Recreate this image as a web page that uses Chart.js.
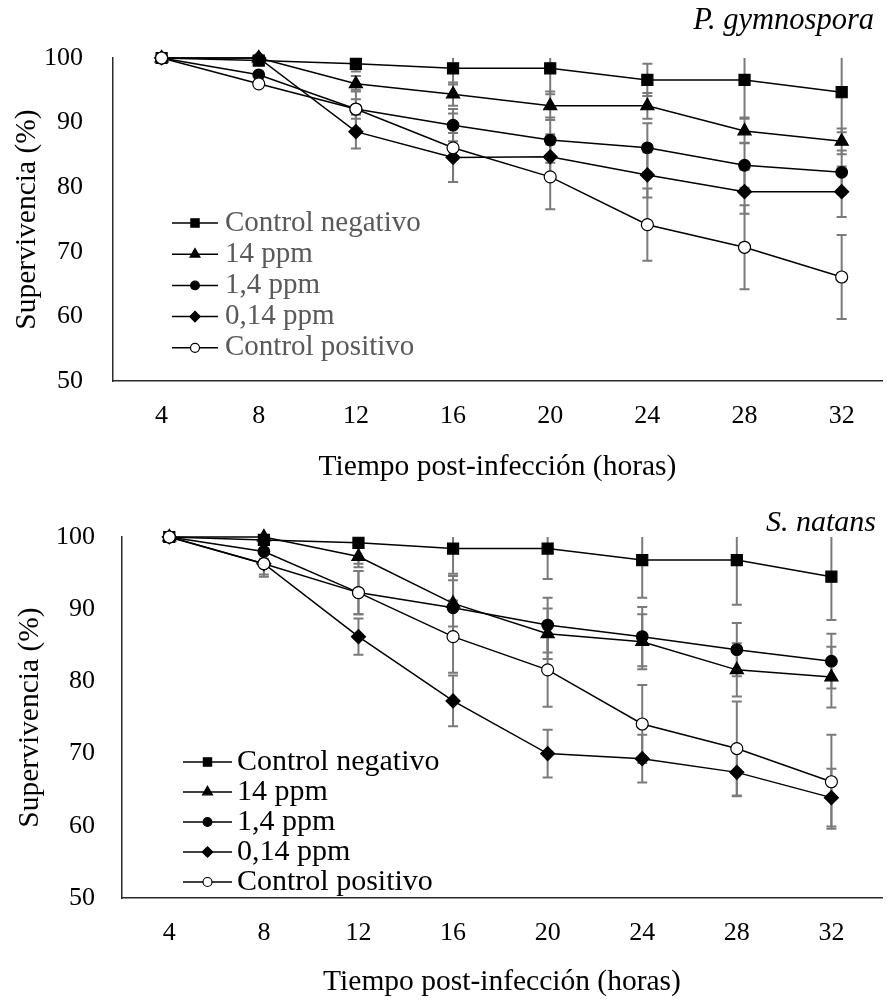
<!DOCTYPE html>
<html><head><meta charset="utf-8">
<script src="https://cdn.jsdelivr.net/npm/chart.js@4/dist/chart.umd.min.js"></script>
<style>
html,body{margin:0;padding:0;background:#fff;}
#w1{position:absolute;left:0;top:0;width:891px;height:490px;}
#w2{position:absolute;left:0;top:490px;width:891px;height:510px;}
</style></head><body>
<div id="w1"><canvas id="c1"></canvas></div>
<div id="w2"><canvas id="c2"></canvas></div>
<script>
const hours = [4, 8, 12, 16, 20, 24, 28, 32];
const hourTicks = [4, 8, 12, 16, 20, 24, 28, 32];
const yTicks = [50, 60, 70, 80, 90, 100];
const seriesNames = ['Control negativo', '14 ppm', '1,4 ppm', '0,14 ppm', 'Control positivo'];
const yTitle = 'Supervivencia (%)';
const xTitle = 'Tiempo post-infección (horas)';
const titleTop = 'P. gymnospora';
const titleBottom = 'S. natans';

// P. gymnospora
const pgNeg   = [100, 99.6, 99.1, 98.4, 98.4, 96.6, 96.6, 94.7];
const pg14    = [100, 100, 96.0, 94.4, 92.6, 92.6, 88.7, 87.1];
const pg1_4   = [100, 97.4, 92.1, 89.6, 87.3, 86.1, 83.4, 82.3];
const pg0_14  = [100, 100, 88.6, 84.6, 84.7, 81.9, 79.3, 79.3];
const pgPos   = [100, 96.0, 92.1, 86.1, 81.6, 74.2, 70.7, 66.1];
const pgNegErr  = [0, 0, 1.2, 2.5, 4.0, 2.5, 5.8, 6.2];
const pg14Err   = [0, 0, 1.2, 1.8, 2.2, 2.0, 1.9, 2.0];
const pg1_4Err  = [0, 0, 1.5, 2.5, 3.5, 3.8, 3.5, 3.4];
const pg0_14Err = [0, 0, 2.6, 3.8, 3.5, 3.5, 3.4, 3.9];
const pgPosErr  = [0, 0, 3.0, 5.3, 5.0, 5.6, 6.5, 6.5];

// S. natans
const snNeg   = [100, 99.6, 99.2, 98.4, 98.4, 96.8, 96.8, 94.5];
const sn14    = [100, 100, 97.3, 90.8, 86.6, 85.5, 81.6, 80.6];
const sn1_4   = [100, 98.0, 92.3, 90.2, 87.8, 86.2, 84.4, 82.8];
const sn0_14  = [100, 96.3, 86.2, 77.3, 70.0, 69.3, 67.4, 63.9];
const snPos   = [100, 96.3, 92.3, 86.2, 81.6, 74.1, 70.7, 66.1];
const snNegErr  = [0, 0.5, 2.9, 3.5, 4.2, 5.2, 6.2, 6.0];
const sn14Err   = [0, 0.5, 1.5, 3.2, 3.5, 3.8, 3.7, 4.2];
const sn1_4Err  = [0, 1.0, 3.0, 4.4, 3.8, 4.1, 3.7, 3.8];
const sn0_14Err = [0, 1.5, 2.5, 3.5, 3.3, 3.3, 3.3, 4.0];
const snPosErr  = [0, 1.8, 3.0, 5.0, 5.1, 5.4, 6.5, 6.5];

const FAM = "'Liberation Serif', 'Times New Roman', serif";

const markerStyles = [
  {pointStyle: 'rect', pointRadius: 7.8, bg: '#000'},
  {pointStyle: 'triangle', pointRadius: 7.6, bg: '#000'},
  {pointStyle: 'circle', pointRadius: 5.8, bg: '#000'},
  {pointStyle: 'rectRot', pointRadius: 7, bg: '#000'},
  {pointStyle: 'circle', pointRadius: 6, bg: '#fff'}
];

function makeDatasets(vals, errs) {
  return vals.map((v, i) => ({
    label: seriesNames[i],
    data: hours.map((h, j) => ({x: h, y: v[j]})),
    errors: errs[i],
    borderColor: '#000',
    borderWidth: 1.5,
    pointStyle: markerStyles[i].pointStyle,
    pointRadius: markerStyles[i].pointRadius,
    pointBackgroundColor: markerStyles[i].bg,
    pointBorderColor: '#000',
    pointBorderWidth: 1.2,
    tension: 0,
    order: 4 - i,
    clip: false
  }));
}

const errorBars = {
  id: 'errorBars',
  beforeDatasetsDraw(chart) {
    const ctx = chart.ctx, ca = chart.chartArea, ys = chart.scales.y;
    ctx.save();
    ctx.beginPath();
    ctx.rect(ca.left, ca.top, ca.right - ca.left, ca.bottom - ca.top);
    ctx.clip();
    ctx.strokeStyle = '#7a7a7a';
    ctx.lineWidth = 2;
    chart.data.datasets.forEach((ds, i) => {
      const meta = chart.getDatasetMeta(i);
      ds.errors.forEach((e, j) => {
        if (!e) return;
        const v = ds.data[j].y;
        const x = meta.data[j].x;
        const yt = ys.getPixelForValue(v + e), yb = ys.getPixelForValue(v - e);
        ctx.beginPath();
        ctx.moveTo(x, yt); ctx.lineTo(x, yb);
        ctx.moveTo(x - 5, yt); ctx.lineTo(x + 5, yt);
        ctx.moveTo(x - 5, yb); ctx.lineTo(x + 5, yb);
        ctx.stroke();
      });
    });
    ctx.restore();
  }
};

const boxLegend = {
  id: 'boxLegend',
  afterDraw(chart, args, o) {
    const ctx = chart.ctx;
    ctx.save();
    chart.data.datasets.forEach((ds, i) => {
      const y = o.y0 + i * o.dy;
      ctx.strokeStyle = '#000';
      ctx.lineWidth = 1.5;
      ctx.beginPath(); ctx.moveTo(o.x0, y); ctx.lineTo(o.x1, y); ctx.stroke();
      ctx.fillStyle = ds.pointBackgroundColor;
      ctx.strokeStyle = '#000';
      ctx.lineWidth = 1.2;
      Chart.helpers.drawPoint(ctx, {pointStyle: ds.pointStyle, radius: ds.pointRadius * 0.75, borderWidth: 1.2, rotation: 0}, (o.x0 + o.x1) / 2, y);
      ctx.fillStyle = o.color;
      ctx.font = o.font;
      ctx.textBaseline = 'middle';
      ctx.textAlign = 'left';
      ctx.fillText(ds.label, o.textX, y);
    });
    ctx.font = o.titleFont;
    ctx.fillStyle = '#000';
    ctx.textAlign = 'right';
    ctx.textBaseline = 'middle';
    ctx.fillText(o.title, o.titleX, o.titleY);
    ctx.restore();
  }
};

function makeChart(id, vals, errs, cfg) {
  return new Chart(document.getElementById(id), {
    type: 'line',
    data: {datasets: makeDatasets(vals, errs)},
    plugins: [errorBars, boxLegend],
    options: {
      responsive: true,
      maintainAspectRatio: false,
      devicePixelRatio: 1,
      animation: false,
      layout: {padding: {top: cfg.top, left: 0, right: 0, bottom: 0}},
      plugins: {
        legend: {display: false},
        tooltip: {enabled: false},
        boxLegend: cfg.legend
      },
      scales: {
        x: {
          type: 'linear', min: 2, max: cfg.xmax,
          afterBuildTicks: s => { s.ticks = hourTicks.map(v => ({value: v})); },
          afterFit: s => { s.height = cfg.xh; },
          grid: {display: false, drawTicks: false},
          border: {display: true, color: '#2a2a2a', width: 1.5},
          ticks: {font: {family: FAM, size: 26}, color: '#000', padding: cfg.xtp, maxRotation: 0, autoSkip: false},
          title: {display: true, text: xTitle, color: '#000', font: {family: FAM, size: 29.5, lineHeight: 1.2}, padding: {top: 0, bottom: cfg.xtb}}
        },
        y: {
          min: 50, max: 100,
          afterBuildTicks: s => { s.ticks = yTicks.map(v => ({value: v})); },
          afterFit: s => { s.width = cfg.yw; },
          grid: {display: false, drawTicks: false},
          border: {display: true, color: '#2a2a2a', width: 1.5},
          ticks: {font: {family: FAM, size: 26}, color: '#000', padding: cfg.ytp},
          title: {display: true, text: yTitle, color: '#000', font: {family: FAM, size: 29.5, lineHeight: 1}, padding: {top: cfg.ytt, bottom: 0}}
        }
      }
    }
  });
}

makeChart('c1', [pgNeg, pg14, pg1_4, pg0_14, pgPos], [pgNegErr, pg14Err, pg1_4Err, pg0_14Err, pgPosErr], {
  top: 58, xmax: 33.66, xh: 109, yw: 113, xtp: 20, xtb: 5, ytp: 30, ytt: 12,
  legend: {x0: 172, x1: 218, textX: 225, y0: 223, dy: 31.2, color: '#595959', font: '29px ' + FAM,
           title: titleTop, titleFont: 'italic 30.5px ' + FAM, titleX: 874, titleY: 21}
});
makeChart('c2', [snNeg, sn14, sn1_4, sn0_14, snPos], [snNegErr, sn14Err, sn1_4Err, sn0_14Err, snPosErr], {
  top: 47, xmax: 34.14, xh: 102, yw: 122, xtp: 20, xtb: 0.5, ytp: 27, ytt: 15,
  legend: {x0: 183, x1: 232, textX: 237, y0: 272, dy: 30, color: '#000', font: '30px ' + FAM,
           title: titleBottom, titleFont: 'italic 30px ' + FAM, titleX: 876, titleY: 33}
});
</script>
</body></html>
